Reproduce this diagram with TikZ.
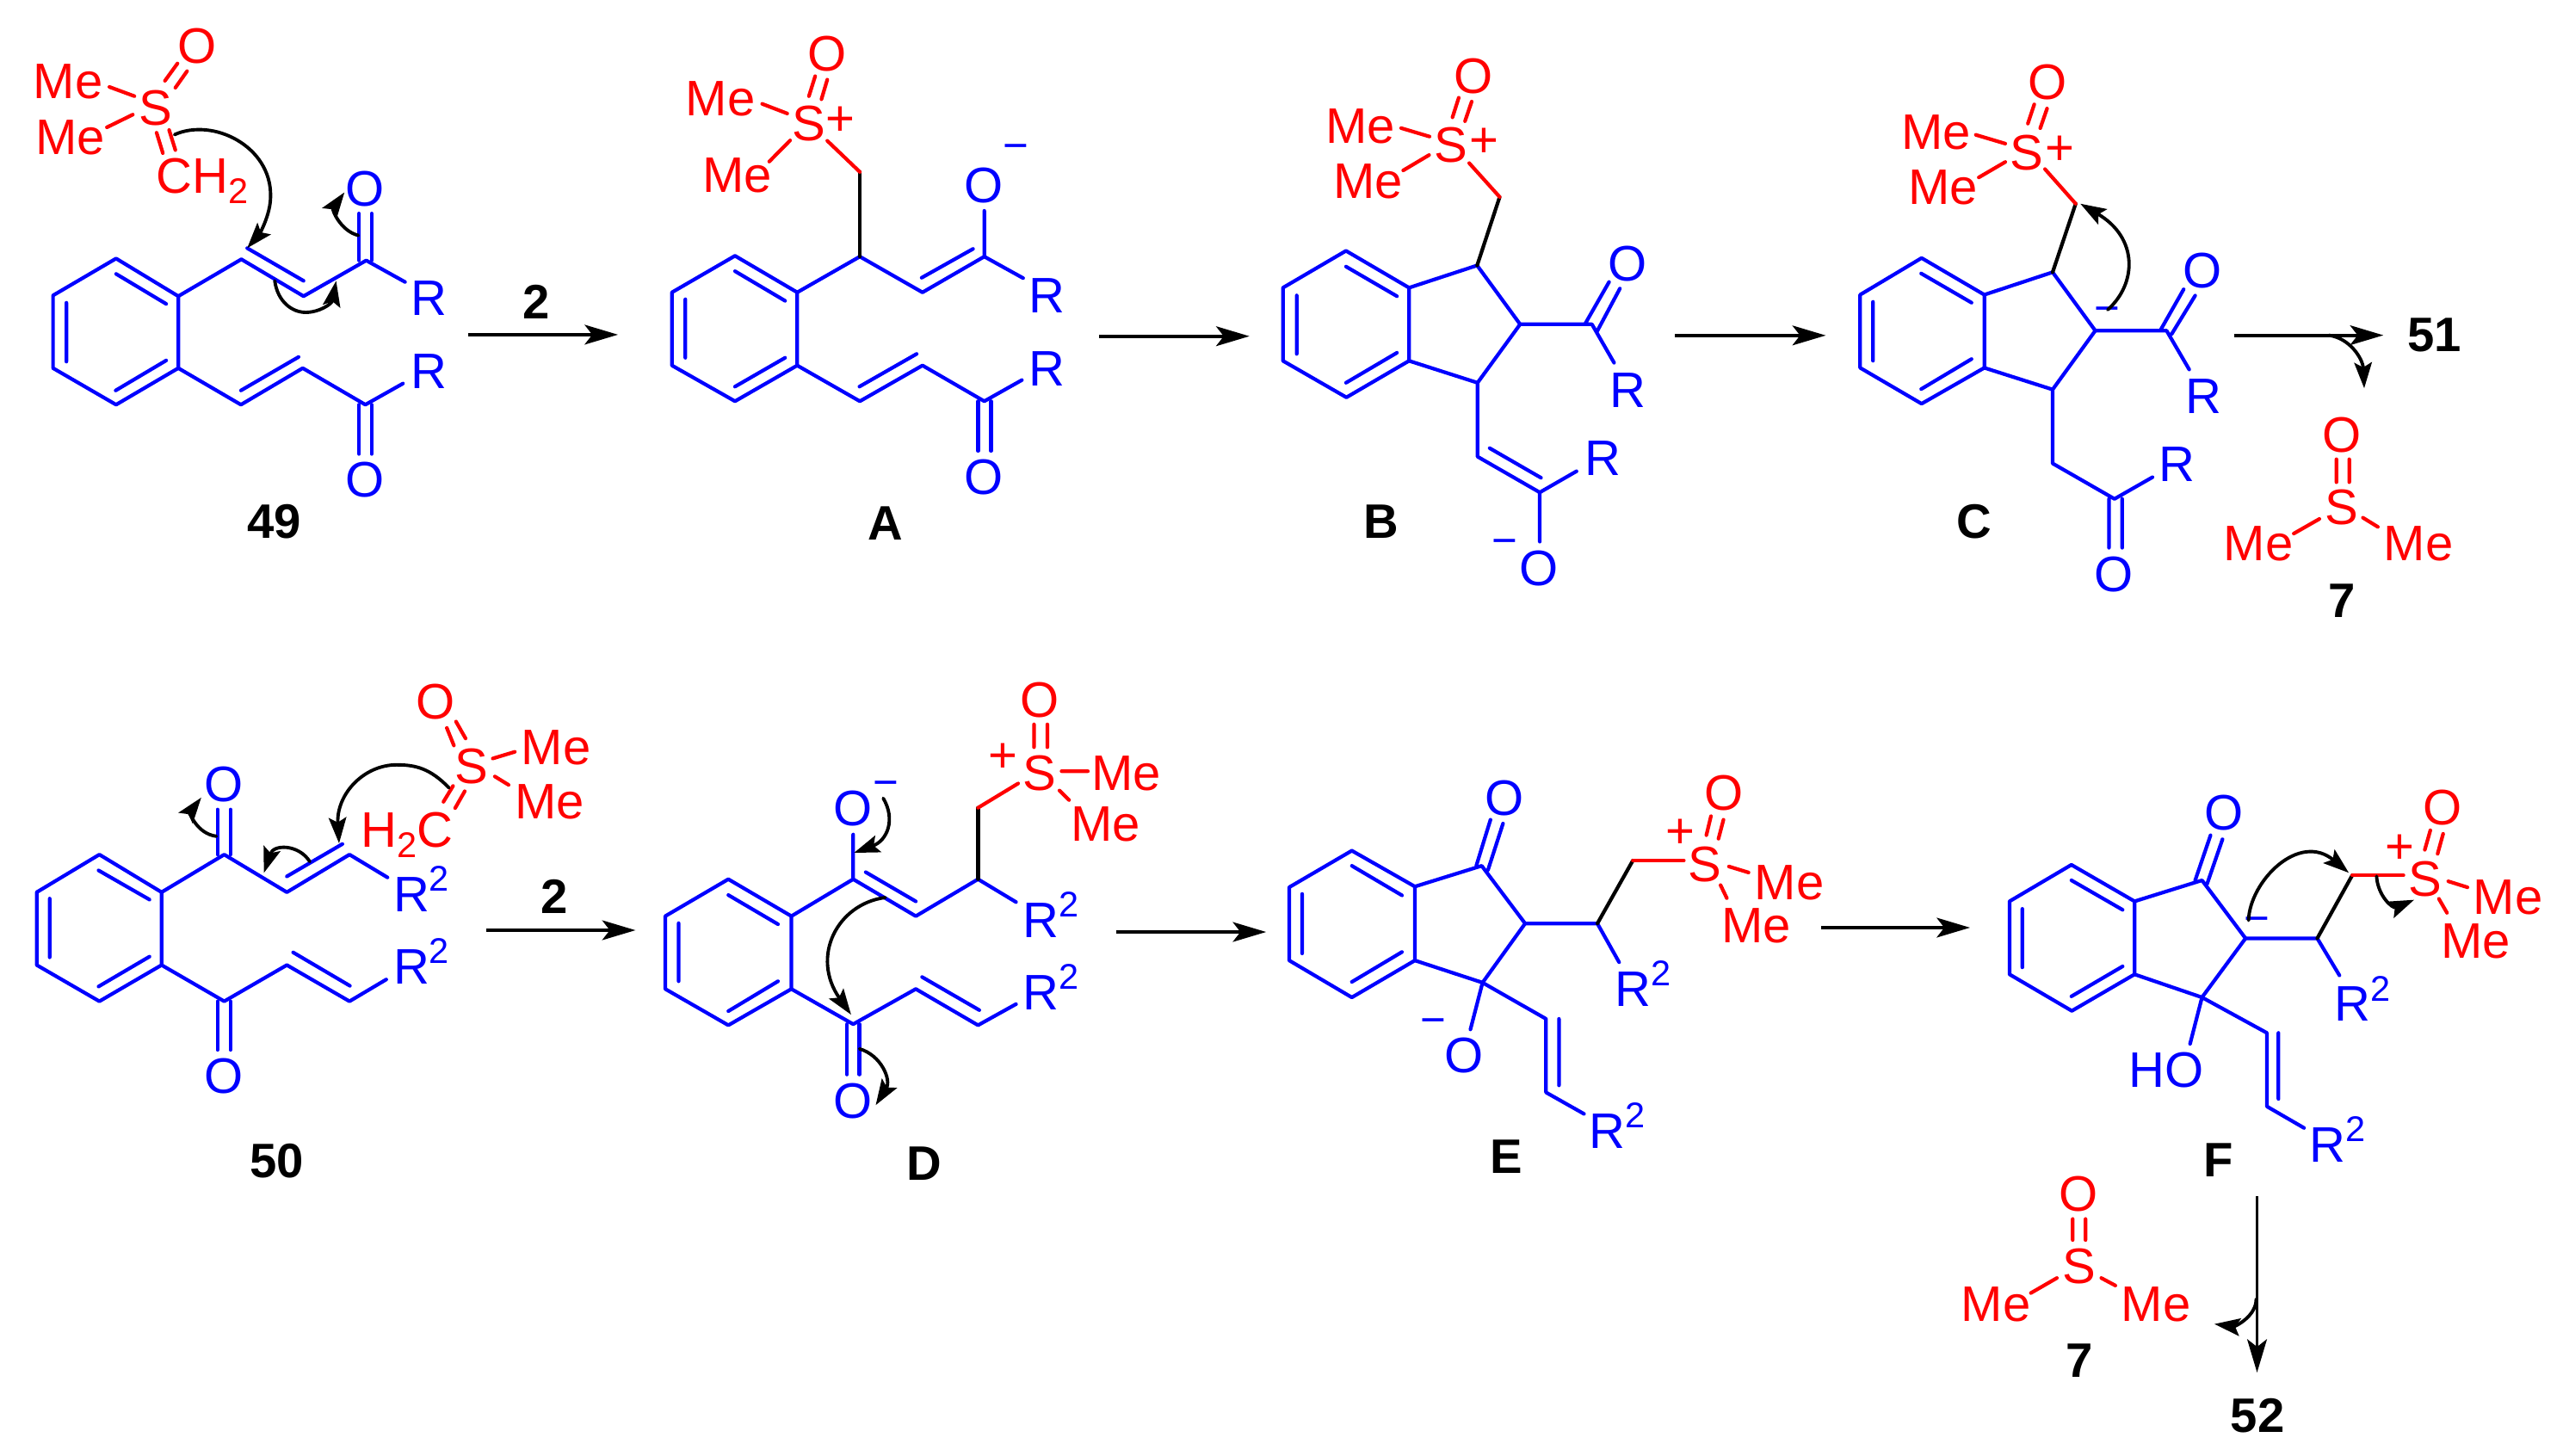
\documentclass[tikz,border=0pt]{standalone}
\usepackage{fontspec}
\setmainfont{Liberation Sans}
\usetikzlibrary{arrows.meta}
\definecolor{cblue}{RGB}{0,0,255}
\definecolor{cred}{RGB}{255,0,0}
\newcommand{\Rsq}{R\raisebox{6.8pt}{\fontsize{11.8}{12}\selectfont 2}}
\newcommand{\Sub}{\raisebox{-3.4pt}{\fontsize{11.8}{12}\selectfont 2}}
\tikzset{
  bl/.style={draw=cblue,line width=1.2pt,line cap=round,line join=round},
  rd/.style={draw=cred,line width=1.2pt,line cap=round,line join=round},
  bk/.style={draw=black,line width=1.2pt,line cap=round,line join=round},
  rxn/.style={draw=black,line width=1.1pt,-{Stealth[length=11pt,width=6.5pt,inset=2.5pt]}},
  cur/.style={draw=black,line width=1.1pt,line cap=round,-{Stealth[length=8.5pt,width=5.8pt,inset=1.6pt]}},
  txt/.style={inner sep=0pt,outer sep=0pt,font=\fontsize{16.5}{18}\selectfont},
  rt/.style={txt,text=cred},
  bt/.style={txt,text=cblue},
  rb/.style={bt,anchor=base west},
  rs/.style={rt,anchor=base west},
  ch/.style={txt,font=\fontsize{14.5}{16}\selectfont},
  lbl/.style={inner sep=0pt,outer sep=0pt,text=black,font=\fontsize{16}{18}\selectfont\bfseries},
  za/.style={x=0.004847cm,y=-0.004464cm},
  zb/.style={x=0.004962cm,y=-0.004847cm},
  zc/.style={x=0.004847cm,y=-0.004082cm},
  zd/.style={x=0.004962cm,y=-0.005816cm}
}
\begin{document}
\begin{tikzpicture}
\useasboundingbox (0,0) rectangle (29.78,-16.92);

% ---------- 49
\begin{scope}[za]
\foreach \n/\x/\y in {P1/278/672,P2/427/770,P3/427/957,P4/278/1052,P5/127/957,P6/127/768,
  P7/578/674,P8/727/770,P9/877/677,P10/577/1052,P11/725/957,P12/875/1052,Pa/1122/870,Pb/1480/870}
  \coordinate (\n) at (\x,\y);
\draw[bl] (P1)--(P2)--(P3)--(P4)--(P5)--(P6)--cycle;
\draw[bl] (278,712)--(398,790) (398,937)--(277,1015) (159,787)--(159,940);
\draw[bl] (P2)--(P7)--(P8)--(P9)--(970,733) (592,645)--(727,730);
\draw[bl] (860,677)--(860,555) (890,677)--(890,555);
\draw[bl] (P3)--(P10)--(P11)--(P12)--(965,997) (577,1015)--(715,928);
\draw[bl] (860,1052)--(860,1180) (890,1052)--(890,1180);
\node[bt] (O49a) at (874,492) {O};
\node[bt] (R49a) at (1027,775) {R};
\node[bt] (R49b) at (1027,965) {R};
\node[bt] (O49b) at (875,1248) {O};
\node[rt] (S49) at (373,280) {S};
\node[rt] (O49c) at (472,120) {O};
\node[rt] (Me49a) at (163,213) {Me};
\node[rt] (Me49b) at (168,357) {Me};
\node[rs] (CH49) at (374,503) {CH\Sub};
\draw[rd] (395,210)--(425,165) (420,228)--(448,185) (262,226)--(322,250) (256,331)--(318,298)
  (375,345)--(390,398) (405,338)--(420,390);
\draw[cur] (418,350) .. controls (510,305) and (650,380) .. (648,510) .. controls (648,560) and (620,610) .. (592,645);
\draw[cur] (658,730) .. controls (665,785) and (700,812) .. (732,812) .. controls (765,812) and (795,790) .. (805,730);
\draw[cur] (858,612) .. controls (815,600) and (795,545) .. (825,500);
\draw[rxn] (Pa)--(Pb);
\node[lbl] (r1) at (1285,785) {2};
\node[lbl] (n49) at (657,1355) {49};
\end{scope}

% ---------- A
\begin{scope}[za,xshift=7.4cm]
\foreach \n/\x/\y in {A1/235/665,A2/384/760,A3/384/950,A4/235/1043,A5/84/950,A6/84/760,
  A7/534/667,A8/684/760,A9/832/667,A10/534/447,A11/534/1043,A12/684/950,A13/832/1043,Aa/1107/874,Ab/1467/874}
  \coordinate (\n) at (\x,\y);
\draw[bl] (A1)--(A2)--(A3)--(A4)--(A5)--(A6)--cycle;
\draw[bl] (235,705)--(355,782) (355,930)--(235,1005) (116,778)--(116,930);
\draw[bl] (A2)--(A7)--(A8)--(A9)--(925,723) (682,722)--(805,647) (A9)--(832,548);
\draw[bk] (A7)--(A10);
\draw[rd] (A10)--(456,366);
\draw[bl] (A3)--(A11)--(A12)--(A13)--(922,988) (533,1005)--(670,920);
\draw[bl] (817,1043)--(817,1172) (848,1043)--(848,1172);
\node[bt] (OAa) at (830,482) {O};
\node[ch,text=cblue] (mA) at (908,396) {−};
\node[bt] (RAa) at (982,768) {R};
\node[bt] (RAb) at (982,958) {R};
\node[bt] (OAb) at (830,1240) {O};
\node[rt] (SA) at (412,320) {S};
\node[rt] (pA) at (487,316) {+};
\node[rt] (OAc) at (456,140) {O};
\node[rt] (MeAa) at (200,258) {Me};
\node[rt] (MeAb) at (240,455) {Me};
\draw[rd] (412,250)--(427,198) (442,258)--(456,207) (300,270)--(360,295) (317,420)--(367,365);
\draw[rxn] (Aa)--(Ab);
\node[lbl] (nA) at (595,1360) {A};
\end{scope}

% ---------- B
\begin{scope}[za,xshift=14.8cm]
\foreach \n/\x/\y in {B1/173/652,B2/324/748,B3/324/938,B4/174/1033,B5/22/938,B6/22/748,
  B7/487/690,B8/590/843,B9/488/995,B10/541/512,B11/762/843,B12/488/1187,B13/637/1280,Ba/961/872,Bb/1322/872}
  \coordinate (\n) at (\x,\y);
\draw[bl] (B1)--(B2)--(B3)--(B4)--(B5)--(B6)--cycle;
\draw[bl] (173,693)--(295,770) (295,917)--(173,995) (55,768)--(55,920);
\draw[bl] (B2)--(B7)--(B8)--(B9)--(B3);
\draw[bk] (B7)--(B10);
\draw[rd] (B10)--(468,424);
\draw[bl] (B8)--(B11)--(815,943) (745,843)--(803,733) (775,860)--(829,750);
\draw[bl] (B9)--(B12)--(B13)--(725,1225) (517,1165)--(640,1242) (B13)--(637,1408);
\node[bt] (OBa) at (847,686) {O};
\node[bt] (RBa) at (848,1015) {R};
\node[bt] (RBb) at (788,1192) {R};
\node[bt] (OBb) at (635,1477) {O};
\node[ch,text=cblue] (mB) at (553,1423) {−};
\node[rt] (SB) at (425,378) {S};
\node[rt] (pB) at (503,370) {+};
\node[rt] (OBc) at (478,198) {O};
\node[rt] (MeBa) at (208,328) {Me};
\node[rt] (MeBb) at (226,472) {Me};
\draw[rd] (428,305)--(443,254) (458,315)--(474,264) (305,333)--(373,355) (310,443)--(372,403);
\draw[rxn] (Ba)--(Bb);
\node[lbl] (nB) at (257,1355) {B};
\end{scope}

% ---------- C, 51, 7
\begin{scope}[zb,xshift=22cm]
\foreach \n/\x/\y in {C1/66/618,C2/213/706,C3/213/881,C4/66/967,C5/-78/881,C6/-78/706,
  C7/373/652,C8/473/792,C9/373/933,C10/427/488,C11/640/792,C12/373/1110,C13/518/1195,Ca/798/803,Cb/1148/803,Cc/1020/803,Cd/1103/930}
  \coordinate (\n) at (\x,\y);
\draw[bl] (C1)--(C2)--(C3)--(C4)--(C5)--(C6)--cycle;
\draw[bl] (65,655)--(183,725) (183,860)--(65,932) (-48,723)--(-48,864);
\draw[bl] (C2)--(C7)--(C8)--(C9)--(C3);
\draw[bk] (C7)--(C10);
\draw[rd] (C10)--(355,405);
\draw[bl] (C8)--(C11)--(693,885) (625,792)--(680,693) (652,800)--(707,708);
\draw[bl] (C9)--(C12)--(C13)--(607,1143) (505,1195)--(505,1312) (536,1195)--(536,1312);
\node[bt] (OCa) at (723,648) {O};
\node[bt] (RCa) at (726,950) {R};
\node[bt] (RCb) at (665,1113) {R};
\node[bt] (OCb) at (517,1375) {O};
\node[ch,text=cblue] (mC) at (500,754) {−};
\node[rt] (SC) at (313,365) {S};
\node[rt] (pC) at (390,360) {+};
\node[rt] (OCc) at (362,197) {O};
\node[rt] (MeCa) at (100,318) {Me};
\node[rt] (MeCb) at (116,450) {Me};
\draw[rd] (315,296)--(330,250) (344,307)--(360,260) (193,323)--(262,344) (200,425)--(262,388);
\draw[cur] (502,742) .. controls (570,680) and (575,570) .. (438,488);
\draw[rxn] (Ca)--(Cb);
\draw[cur] (Cc) .. controls (1070,810) and (1100,860) .. (Cd);
\node[lbl] (n51) at (1268,802) {51};
\node[lbl] (nC) at (190,1250) {C};
\node[rt] (O7a) at (1050,1042) {O};
\node[rt] (S7a) at (1050,1215) {S};
\node[rt] (Me7a) at (855,1303) {Me};
\node[rt] (Me7b) at (1230,1303) {Me};
\draw[rd] (1038,1100)--(1038,1155) (1068,1100)--(1068,1155) (938,1278)--(998,1243) (1100,1240)--(1135,1262);
\node[lbl] (n7a) at (1050,1440) {7};
\end{scope}

% ---------- 50
\begin{scope}[zc,yshift=-7.6cm]
\foreach \n/\x/\y in {Q1/238/570,Q2/387/677,Q3/387/884,Q4/238/987,Q5/88/884,Q6/88/677,
  Q7/537/570,Q8/687/677,Q9/837/570,Q10/537/987,Q11/687/884,Q12/837/987,Qa/1165/785,Qb/1522/785}
  \coordinate (\n) at (\x,\y);
\draw[bl] (Q1)--(Q2)--(Q3)--(Q4)--(Q5)--(Q6)--cycle;
\draw[bl] (236,615)--(358,698) (358,860)--(236,945) (119,695)--(119,862);
\draw[bl] (Q2)--(Q7)--(Q8)--(Q9)--(928,635) (687,632)--(820,540);
\draw[bl] (521,570)--(521,442) (552,570)--(552,442);
\draw[bl] (Q3)--(Q10)--(Q11)--(Q12)--(925,925) (702,848)--(838,943);
\draw[bl] (521,987)--(521,1125) (552,987)--(552,1125);
\node[bt] (OQa) at (536,370) {O};
\node[bt] (OQb) at (536,1200) {O};
\node[rb] (RQa) at (942,733) {\Rsq};
\node[rb] (RQb) at (942,938) {\Rsq};
\node[rt] (SQ) at (1130,318) {S};
\node[rt] (OQc) at (1044,137) {O};
\node[rt] (MeQa) at (1332,265) {Me};
\node[rt] (MeQb) at (1316,420) {Me};
\node[rs] (HQ) at (865,548) {H\Sub C};
\draw[rd] (1070,210)--(1087,260) (1092,192)--(1115,240) (1180,297)--(1233,278) (1185,348)--(1218,372)
  (1062,420)--(1085,375) (1090,438)--(1113,390);
\draw[cur] (1075,380) .. controls (1030,325) and (995,315) .. (950,315) .. controls (870,315) and (805,400) .. (812,538);
\draw[cur] (742,590) .. controls (715,540) and (655,540) .. (632,622);
\draw[cur] (518,518) .. controls (470,510) and (455,450) .. (482,408);
\draw[rxn] (Qa)--(Qb);
\node[lbl] (r2) at (1327,690) {2};
\node[lbl] (n50) at (663,1440) {50};
\end{scope}

% ---------- D
\begin{scope}[zc,xshift=7.4cm,yshift=-7.6cm]
\foreach \n/\x/\y in {D1/219/640,D2/370/745,D3/370/952,D4/219/1055,D5/68/952,D6/68/745,
  D7/518/640,D8/668/745,D9/817/640,D10/817/437,D11/518/1052,D12/668/952,D13/817/1055,Da/1147/790,Db/1507/790}
  \coordinate (\n) at (\x,\y);
\draw[bl] (D1)--(D2)--(D3)--(D4)--(D5)--(D6)--cycle;
\draw[bl] (219,685)--(338,768) (338,930)--(219,1015) (100,765)--(100,930);
\draw[bl] (D2)--(D7)--(D8)--(D9)--(908,705) (548,620)--(668,703) (D7)--(518,513);
\draw[bk] (D9)--(D10);
\draw[rd] (D10)--(913,368);
\draw[bl] (D3)--(D11)--(D12)--(D13)--(908,995) (683,918)--(820,1012);
\draw[bl] (503,1052)--(503,1195) (533,1052)--(533,1195);
\node[bt] (ODa) at (517,440) {O};
\node[ch,text=cblue] (mD) at (596,385) {−};
\node[bt] (ODb) at (517,1270) {O};
\node[rb] (RDa) at (925,805) {\Rsq};
\node[rb] (RDb) at (925,1010) {\Rsq};
\node[rt] (SD) at (965,338) {S};
\node[rt] (pD) at (877,296) {+};
\node[rt] (ODc) at (965,130) {O};
\node[rt] (MeDa) at (1172,340) {Me};
\node[rt] (MeDb) at (1122,485) {Me};
\draw[rd] (951,265)--(951,200) (983,265)--(983,200) (1017,333)--(1080,333) (1012,388)--(1035,415);
\draw[cur] (590,410) .. controls (620,470) and (600,530) .. (520,565);
\draw[cur] (595,692) .. controls (480,710) and (415,860) .. (513,1025);
\draw[cur] (533,1122) .. controls (585,1140) and (610,1210) .. (572,1282);
\draw[rxn] (Da)--(Db);
\node[lbl] (nD) at (688,1448) {D};
\end{scope}

% ---------- E
\begin{scope}[zc,xshift=14.8cm,yshift=-7.8cm]
\foreach \n/\x/\y in {E1/187/510,E2/338/612,E3/338/822,E4/187/927,E5/37/822,E6/37/614,
  E7/498/553,E8/602/717,E9/500/885,E10/775/717,E11/860/538,E12/652/988,E13/652/1197}
  \coordinate (\n) at (\x,\y);
\draw[bl] (E1)--(E2)--(E3)--(E4)--(E5)--(E6)--cycle;
\draw[bl] (187,553)--(307,637) (307,798)--(187,883) (68,633)--(68,802);
\draw[bl] (E2)--(E7)--(E8)--(E9)--(E3);
\draw[bl] (485,553)--(519,422) (513,565)--(549,433);
\draw[bl] (E8)--(E10)--(827,827);
\draw[bk] (E10)--(E11);
\draw[rd] (E11)--(982,538);
\draw[bl] (E9)--(E12)--(E13)--(743,1258) (683,988)--(683,1177) (E9)--(471,1018);
\node[bt] (OEa) at (552,360) {O};
\node[bt] (OEb) at (455,1092) {O};
\node[ch,text=cblue] (mE) at (382,1010) {−};
\node[rb] (REa) at (818,952) {\Rsq};
\node[rb] (REb) at (755,1355) {\Rsq};
\node[rt] (SE) at (1033,548) {S};
\node[rt] (pE) at (974,462) {+};
\node[rt] (OEc) at (1078,345) {O};
\node[rt] (MeEa) at (1235,600) {Me};
\node[rt] (MeEb) at (1155,723) {Me};
\draw[rd] (1036,466)--(1047,412) (1065,476)--(1077,422) (1090,555)--(1137,572) (1070,608)--(1085,645);
\node[lbl] (nE) at (557,1380) {E};
\end{scope}

\coordinate (Ea) at (21.16,-10.78);
\coordinate (Eb) at (22.89,-10.78);
\draw[rxn] (Ea)--(Eb);

% ---------- F, 52, 7
\begin{scope}[zd,xshift=22cm,yshift=-7.8cm]
\foreach \n/\x/\y in {F1/417/387,F2/565/460,F3/565/606,F4/418/679,F5/272/606,F6/272/460,
  F7/723/418,F8/825/534,F9/723/652,F10/993/534,F11/1075/408,F12/875/723,F13/875/870,Fa/852/1050,Fb/852/1402,Fc/850/1255,Fd/752/1305}
  \coordinate (\n) at (\x,\y);
\draw[bl] (F1)--(F2)--(F3)--(F4)--(F5)--(F6)--cycle;
\draw[bl] (417,418)--(537,477) (537,590)--(417,650) (302,475)--(302,592);
\draw[bl] (F2)--(F7)--(F8)--(F9)--(F3);
\draw[bl] (707,418)--(743,328) (735,425)--(771,336);
\draw[bl] (F8)--(F10)--(1045,608);
\draw[bk] (F10)--(F11);
\draw[rd] (F11)--(1195,408);
\draw[bl] (F9)--(F12)--(F13)--(962,913) (902,723)--(902,855) (F9)--(695,745);
\node[bt] (OFa) at (775,283) {O};
\node[bt] (HOF) at (640,797) {HO};
\node[ch,text=cblue] (mF) at (852,507) {−};
\node[rb] (RFa) at (1033,700) {\Rsq};
\node[rb] (RFb) at (975,982) {\Rsq};
\node[rt] (SF) at (1245,415) {S};
\node[rt] (pF) at (1187,355) {+};
\node[rt] (OFc) at (1287,272) {O};
\node[rt] (MeFa) at (1440,452) {Me};
\node[rt] (MeFb) at (1365,540) {Me};
\draw[rd] (1245,357)--(1258,318) (1275,365)--(1288,325) (1300,420)--(1345,432) (1278,455)--(1297,483);
\draw[cur] (832,498) .. controls (835,420) and (950,320) .. (1067,403);
\draw[cur] (1132,410) .. controls (1135,450) and (1170,475) .. (1220,457);
\node[lbl] (nF) at (762,977) {F};
\draw[rxn] (Fa)--(Fb);
\draw[cur] (Fc) .. controls (850,1290) and (800,1310) .. (Fd);
\node[lbl] (n52) at (853,1488) {52};
\node[rt] (O7b) at (433,1045) {O};
\node[rt] (S7b) at (435,1190) {S};
\node[rt] (Me7c) at (240,1265) {Me};
\node[rt] (Me7d) at (615,1265) {Me};
\draw[rd] (420,1095)--(420,1137) (450,1095)--(450,1137) (322,1243)--(383,1213) (487,1213)--(520,1228);
\node[lbl] (n7b) at (435,1378) {7};
\end{scope}
\end{tikzpicture}
\end{document}
